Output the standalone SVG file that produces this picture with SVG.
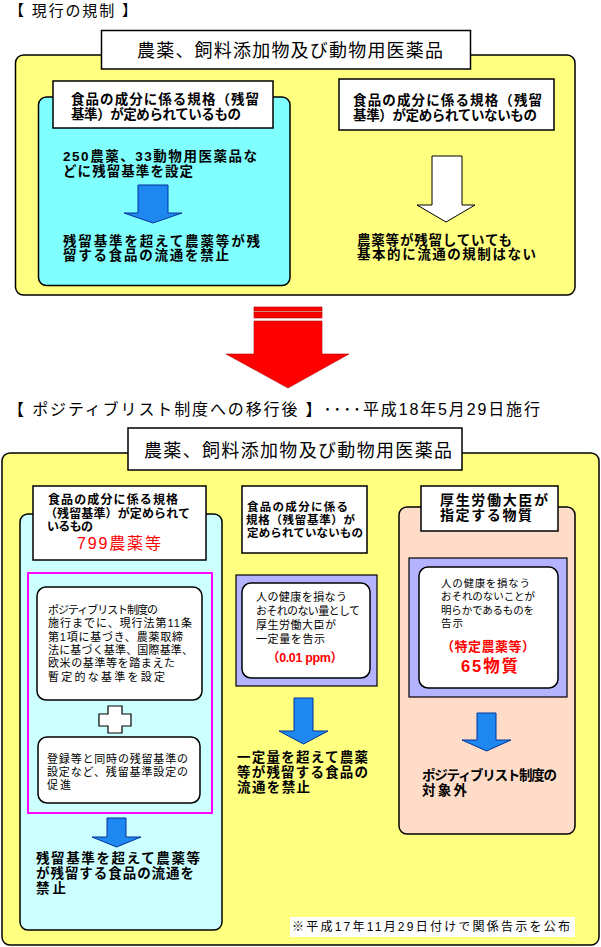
<svg xmlns="http://www.w3.org/2000/svg" width="601" height="947" viewBox="0 0 601 947">
<style>
text{font-family:"Liberation Sans","Noto Sans CJK JP","Noto Sans CJK SC",sans-serif;fill:#000}
.b{font-weight:bold}
.red{fill:#FF0000}
.box{stroke:#000;stroke-width:1.5}
.lbl{fill:#fff;stroke:#000;stroke-width:1.5}
.blue{fill:#1E88F0;stroke:#003399;stroke-width:1}
.t1{font-size:13.5px;font-weight:bold}
.s{font-size:11px}
</style>
<rect width="601" height="947" fill="#fff"/>

<!-- Section 1 -->
<text x="9" y="16" font-size="15" textLength="128">【 現行の規制 】</text>

<g id="old-frame">
<rect class="box" x="15.5" y="55" width="559.5" height="240" rx="8" fill="#FFFF80"/>
</g>
<g id="old-title">
<rect class="lbl" x="101.5" y="30.5" width="369" height="38.5"/>
<text x="290" y="57" font-size="18" text-anchor="middle" textLength="306">農薬、飼料添加物及び動物用医薬品</text>
</g>

<g id="old-defined">
<rect class="box" x="38.5" y="97" width="251.5" height="188.5" rx="8" fill="#80FFFF"/>
<rect class="lbl" x="53" y="81" width="220" height="47"/>
<text class="t1" x="71" y="104" textLength="188">食品の成分に係る規格（残留</text>
<text class="t1" x="71" y="119" textLength="170">基準）が定められているもの</text>
<text class="t1" x="63" y="161" textLength="194">250農薬、33動物用医薬品な</text>
<text class="t1" x="63" y="176" textLength="130">どに残留基準を設定</text>
<text class="t1" x="63" y="246" textLength="197">残留基準を超えて農薬等が残</text>
<text class="t1" x="63" y="260" textLength="166">留する食品の流通を禁止</text>
</g>

<g id="old-undefined">
<rect class="lbl" x="339" y="79" width="215" height="51"/>
<text class="t1" x="353" y="105" textLength="189">食品の成分に係る規格（残留</text>
<text class="t1" x="353" y="120" textLength="184">基準）が定められていないもの</text>
<text class="t1" x="357" y="245" textLength="155">農薬等が残留していても</text>
<text class="t1" x="357" y="259" textLength="179">基本的に流通の規制はない</text>
</g>

<!-- Section 2 -->
<text x="8" y="415" font-size="16" textLength="532">【 ポジティブリスト制度への移行後 】････平成18年5月29日施行</text>

<g id="new-frame">
<rect class="box" x="2" y="453" width="597" height="492" rx="8" fill="#FFFF80"/>
</g>
<g id="new-title">
<rect class="lbl" x="128" y="428" width="334" height="42"/>
<text x="298" y="457" font-size="18" text-anchor="middle" textLength="308">農薬、飼料添加物及び動物用医薬品</text>
</g>

<g id="new-defined">
<rect class="box" x="20" y="514" width="202" height="416" rx="8" fill="#CCFFFF"/>
<rect class="lbl" x="33" y="486" width="173" height="74"/>
<text class="b" x="48" y="504" font-size="12" textLength="130">食品の成分に係る規格</text>
<text class="b" x="45" y="518" font-size="12" textLength="145">（残留基準）が定められて</text>
<text class="b" x="47" y="531" font-size="12" textLength="46">いるもの</text>
<text class="red" x="77" y="549" font-size="16" textLength="84">799農薬等</text>
<rect x="28" y="573" width="184" height="240" fill="none" stroke="#FF00FF" stroke-width="2"/>
</g>

<g id="provisional">
<rect class="lbl" x="37" y="587" width="165" height="113" rx="9"/>
<text class="s" x="48" y="614" textLength="110">ポジティブリスト制度の</text>
<text class="s" x="48" y="627" textLength="144">施行までに、現行法第11条</text>
<text class="s" x="48" y="641" textLength="135">第1項に基づき、農薬取締</text>
<text class="s" x="48" y="654" textLength="145">法に基づく基準、国際基準、</text>
<text class="s" x="48" y="667" textLength="127">欧米の基準等を踏まえた</text>
<text class="s" x="48" y="681" textLength="117">暫定的な基準を設定</text>
</g>

<g id="plus">
<polygon points="108,706 122,706 122,714 131,714 131,726 122,726 122,733 108,733 108,726 99,726 99,714 108,714" fill="#fff" stroke="#000" stroke-width="1.2"/>
</g>

<g id="promotion">
<rect class="lbl" x="38" y="737" width="162" height="66" rx="9"/>
<text class="s" x="47" y="763" textLength="141">登録等と同時の残留基準の</text>
<text class="s" x="47" y="776" textLength="141">設定など、残留基準設定の</text>
<text class="s" x="47" y="789" textLength="24">促進</text>
</g>

<g id="new-defined-result">
<text class="t1" x="36" y="863" textLength="164">残留基準を超えて農薬等</text>
<text class="t1" x="36" y="878" textLength="158">が残留する食品の流通を</text>
<text class="t1" x="36" y="893" textLength="30">禁止</text>
</g>

<g id="new-undefined">
<rect class="lbl" x="242" y="486" width="125" height="67"/>
<text class="b" x="247" y="511" font-size="11.5" textLength="101">食品の成分に係る</text>
<text class="b" x="246" y="524" font-size="11.5" textLength="109">規格（残留基準）が</text>
<text class="b" x="247" y="537" font-size="11.5" textLength="116">定められていないもの</text>
</g>

<g id="uniform-limit">
<rect x="236" y="575" width="141" height="111" fill="#B3B3FF" stroke="#000" stroke-width="1.2"/>
<rect class="lbl" x="242" y="583" width="128" height="95" rx="9"/>
<text class="s" x="256" y="601" textLength="91">人の健康を損なう</text>
<text class="s" x="256" y="615" textLength="104">おそれのない量として</text>
<text class="s" x="256" y="629" textLength="80">厚生労働大臣が</text>
<text class="s" x="256" y="643" textLength="69">一定量を告示</text>
<text class="b red" x="267" y="662" font-size="12.5" textLength="76">（0.01 ppm）</text>
</g>

<g id="uniform-result">
<text class="t1" x="237" y="762" textLength="131">一定量を超えて農薬</text>
<text class="t1" x="237" y="777" textLength="131">等が残留する食品の</text>
<text class="t1" x="237" y="792" textLength="73">流通を禁止</text>
</g>

<g id="designated">
<rect class="box" x="399" y="507" width="176" height="327" rx="8" fill="#FFDCC8"/>
<rect class="lbl" x="421" y="486" width="137" height="45"/>
<text class="b" x="440" y="505" font-size="14" textLength="108">厚生労働大臣が</text>
<text class="b" x="440" y="520" font-size="14" textLength="92">指定する物質</text>
</g>

<g id="designated-detail">
<rect x="409" y="558" width="158" height="139" fill="#B3B3FF" stroke="#000" stroke-width="1.2"/>
<rect class="lbl" x="419" y="567" width="139" height="121" rx="9"/>
<text x="441" y="587" font-size="10.5" textLength="89">人の健康を損なう</text>
<text x="441" y="600" font-size="10.5" textLength="94">おそれのないことが</text>
<text x="441" y="614" font-size="10.5" textLength="93">明らかであるものを</text>
<text x="441" y="627" font-size="10.5" textLength="22">告示</text>
<text class="b red" x="441" y="651" font-size="13" textLength="94">（特定農薬等）</text>
<text class="b red" x="461" y="672" font-size="16.5" textLength="57">65物質</text>
</g>

<g id="designated-result">
<text class="t1" x="422" y="780" textLength="135">ポジティブリスト制度の</text>
<text class="t1" x="422" y="795" textLength="45">対象外</text>
</g>

<g id="footnote">
<rect x="290" y="917" width="285" height="20" fill="#fff"/>
<text x="292" y="931" font-size="12" textLength="278">※平成17年11月29日付けで関係告示を公布</text>
</g>

<g id="connectors">
<polygon class="blue" points="138,185 168,185 168,213 182,213 153,223 124,213 138,213"/>
<polygon points="432,156 462,156 462,205 475,205 446,222 417,205 432,205" fill="#fff" stroke="#000" stroke-width="1"/>
<g fill="#FF0000" stroke="#B00000" stroke-width="0.6">
<rect x="254" y="307" width="68" height="4"/>
<rect x="254" y="312" width="68" height="6"/>
<polygon points="254,321 322,321 322,354 349,354 288,388 226,354 254,354"/>
</g>
<polygon class="blue" points="107,818 126,818 126,837 141,837 116.5,847 92,837 107,837"/>
<polygon class="blue" points="294,698 313,698 313,731 328,731 303.5,744 279,731 294,731"/>
<polygon class="blue" points="477,713 496,713 496,740 511,740 486.5,751 462,740 477,740"/>
</g>
</svg>
